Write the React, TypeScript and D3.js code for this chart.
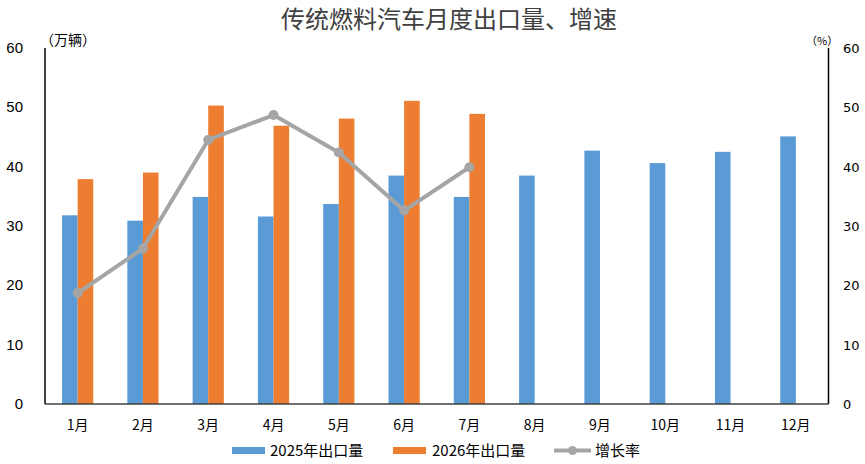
import React from "react";
import * as d3 from "d3";

const months = ["1月", "2月", "3月", "4月", "5月", "6月", "7月", "8月", "9月", "10月", "11月", "12月"];
const export2025 = [31.8, 30.9, 34.9, 31.6, 33.7, 38.5, 34.9, 38.5, 42.7, 40.6, 42.5, 45.1];
const export2026 = [37.9, 39.0, 50.3, 46.9, 48.1, 51.1, 48.9];
const growth = [18.7, 26.2, 44.5, 48.7, 42.4, 32.6, 39.9];
const yTicks = [0, 10, 20, 30, 40, 50, 60];

const W = 865;
const H = 464;
const BLUE = "#5B9BD5";
const ORANGE = "#ED7D31";
const GREY = "#A5A5A5";
const FONT = "Arial, 'Liberation Sans', 'Noto Sans CJK SC', sans-serif";
const CJK = "'Noto Sans CJK SC', sans-serif";

export default function App() {
  const left = 45;
  const right = 828.5;
  const top = 48;
  const bottom = 404;

  const x = d3.scaleBand<string>().domain(months).range([left, right]).paddingInner(0).paddingOuter(0);
  const yL = d3.scaleLinear().domain([0, 60]).range([bottom, top]);
  const yR = d3.scaleLinear().domain([0, 60]).range([bottom, top]);
  const barW = 15.6;

  const linePath = d3
    .line<number>()
    .x((_, i) => x(months[i])! + x.bandwidth() / 2)
    .y((d) => yR(d))(growth);

  return (
    <svg width={W} height={H} style={{ position: "absolute", left: 0, top: 0, background: "#fff" }}>
      <rect width={W} height={H} fill="#fff" />
      <text x={449} y={28} textAnchor="middle" fontFamily={CJK} fontSize={24} fill="#404040">
        传统燃料汽车月度出口量、增速
      </text>
      <text x={40} y={45} fontFamily={CJK} fontSize={14} fill="#000">（万辆）</text>
      <text x={806} y={45} fontFamily={CJK} fontSize={11} fill="#000">（%）</text>

      {/* bars */}
      {export2025.map((v, i) => {
        const cx = x(months[i])! + x.bandwidth() / 2;
        return <rect key={"b" + i} x={cx - barW} y={yL(v)} width={barW} height={bottom - yL(v)} fill={BLUE} />;
      })}
      {export2026.map((v, i) => {
        const cx = x(months[i])! + x.bandwidth() / 2;
        return <rect key={"o" + i} x={cx} y={yL(v)} width={barW} height={bottom - yL(v)} fill={ORANGE} />;
      })}

      {/* line */}
      <path d={linePath!} fill="none" stroke={GREY} strokeWidth={4} strokeLinejoin="round" />
      {growth.map((v, i) => (
        <circle key={"c" + i} cx={x(months[i])! + x.bandwidth() / 2} cy={yR(v)} r={5} fill={GREY} />
      ))}

      {/* axes */}
      <line x1={left} x2={left} y1={top} y2={bottom} stroke="#000" strokeWidth={1.5} />
      <line x1={right} x2={right} y1={top} y2={bottom} stroke="#000" strokeWidth={1.5} />
      <line x1={left} x2={right} y1={bottom} y2={bottom} stroke="#404040" strokeWidth={1.5} />

      {yTicks.map((t) => (
        <text key={"l" + t} x={23} y={yL(t) + 5} textAnchor="end" fontFamily={FONT} fontSize={15} fill="#000">
          {t}
        </text>
      ))}
      {yTicks.map((t) => (
        <text key={"r" + t} x={843} y={yR(t) + 5} textAnchor="start" fontFamily="'DejaVu Sans', sans-serif" fontSize={13} fill="#000">
          {t}
        </text>
      ))}
      {months.map((m) => (
        <text key={m} x={x(m)! + x.bandwidth() / 2} y={430} textAnchor="middle" fontFamily={CJK} fontSize={14} fill="#000">
          {m}
        </text>
      ))}

      {/* legend */}
      <rect x={232} y={447} width={33} height={7} fill={BLUE} />
      <text x={270} y={456} fontFamily={CJK} fontSize={15} fill="#000">2025年出口量</text>
      <rect x={393} y={447} width={33} height={7} fill={ORANGE} />
      <text x={432} y={456} fontFamily={CJK} fontSize={15} fill="#000">2026年出口量</text>
      <line x1={554} x2={591} y1={450.5} y2={450.5} stroke={GREY} strokeWidth={4} />
      <circle cx={572.5} cy={450.5} r={4.5} fill={GREY} />
      <text x={595} y={456} fontFamily={CJK} fontSize={15} fill="#000">增长率</text>
    </svg>
  );
}
